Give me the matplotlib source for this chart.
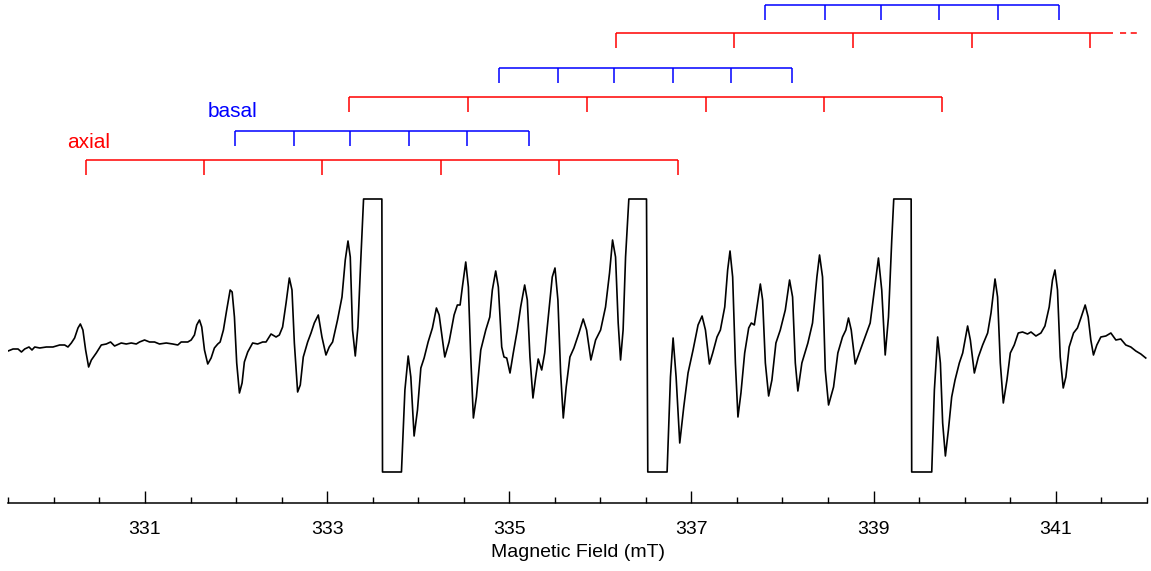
import matplotlib
matplotlib.use("Agg")
import matplotlib.pyplot as plt
import matplotlib.ticker as mticker

plt.rcParams["font.family"] = ["Liberation Sans", "DejaVu Sans"]

# EPR spectrum (field in mT, intensity in arbitrary units)
field_mT = [
    329.496, 329.551, 329.606, 329.643, 329.679, 329.726, 329.759, 329.789, 329.844, 329.917,
    329.989, 330.063, 330.118, 330.154, 330.191, 330.227, 330.264, 330.290, 330.318, 330.348,
    330.381, 330.411, 330.465, 330.520, 330.575, 330.622, 330.666, 330.739, 330.794, 330.849,
    330.904, 330.940, 330.995, 331.050, 331.105, 331.159, 331.233, 331.305, 331.360, 331.397,
    331.470, 331.507, 331.543, 331.568, 331.598, 331.623, 331.653, 331.689, 331.726, 331.762,
    331.799, 331.825, 331.861, 331.897, 331.935, 331.957, 331.982, 332.007, 332.037, 332.066,
    332.091, 332.128, 332.182, 332.237, 332.292, 332.329, 332.384, 332.439, 332.475, 332.511,
    332.549, 332.585, 332.614, 332.640, 332.676, 332.705, 332.738, 332.786, 332.823, 332.859,
    332.903, 332.943, 332.987, 333.023, 333.060, 333.114, 333.163, 333.199, 333.229, 333.254,
    333.279, 333.309, 333.338, 333.371, 333.400, 333.601, 333.608, 333.816, 333.854, 333.890,
    333.919, 333.955, 333.992, 334.029, 334.065, 334.109, 334.156, 334.200, 334.230, 334.292,
    334.339, 334.394, 334.430, 334.460, 334.485, 334.522, 334.551, 334.577, 334.606, 334.639,
    334.687, 334.742, 334.786, 334.814, 334.851, 334.880, 334.917, 334.942, 334.972, 335.008,
    335.044, 335.088, 335.125, 335.169, 335.198, 335.227, 335.260, 335.290, 335.318, 335.356,
    335.389, 335.428, 335.472, 335.502, 335.534, 335.564, 335.593, 335.625, 335.666, 335.710,
    335.765, 335.812, 335.849, 335.896, 335.948, 336.003, 336.057, 336.101, 336.134, 336.167,
    336.196, 336.222, 336.250, 336.277, 336.313, 336.507, 336.521, 336.733, 336.770, 336.799,
    336.832, 336.872, 336.916, 336.963, 337.018, 337.073, 337.117, 337.154, 337.198, 337.234,
    337.281, 337.318, 337.366, 337.398, 337.424, 337.453, 337.483, 337.511, 337.544, 337.585,
    337.629, 337.658, 337.691, 337.720, 337.757, 337.782, 337.812, 337.848, 337.884, 337.928,
    337.976, 338.031, 338.078, 338.111, 338.141, 338.169, 338.213, 338.279, 338.330, 338.378,
    338.407, 338.440, 338.470, 338.506, 338.561, 338.608, 338.659, 338.696, 338.725, 338.755,
    338.799, 338.843, 338.908, 338.963, 338.999, 339.054, 339.090, 339.128, 339.164, 339.200,
    339.222, 339.413, 339.419, 339.639, 339.668, 339.704, 339.734, 339.759, 339.789, 339.822,
    339.858, 339.895, 339.942, 339.979, 340.005, 340.033, 340.063, 340.107, 340.151, 340.198,
    340.253, 340.290, 340.334, 340.362, 340.392, 340.425, 340.465, 340.502, 340.545, 340.589,
    340.636, 340.691, 340.729, 340.783, 340.838, 340.882, 340.929, 340.965, 340.992, 341.020,
    341.050, 341.083, 341.112, 341.148, 341.196, 341.239, 341.277, 341.324, 341.357, 341.386,
    341.415, 341.452, 341.496, 341.551, 341.606, 341.661, 341.715, 341.770, 341.825, 341.880,
    341.935, 341.989,
]
intensity = [
    -6, -4, -4, -7, -4, -2, -5, -2, -3, -2,
    -2, 0, 0, -2, 2, 7, 17, 21, 15, -5,
    -22, -15, -8, 0, 1, 3, -1, 2, 1, 2,
    1, 3, 5, 3, 3, 1, 2, 1, 0, 3,
    3, 5, 10, 20, 25, 18, -5, -19, -13, -3,
    1, 3, 15, 35, 55, 53, 28, -18, -48, -38,
    -17, -7, 2, 1, 3, 3, 11, 8, 10, 18,
    42, 67, 55, 2, -47, -40, -12, 3, 12, 22,
    30, 8, -10, -2, 3, 25, 48, 85, 104, 88,
    15, -11, 18, 88, 146, 146, -127, -127, -45, -11,
    -32, -91, -65, -23, -13, 3, 17, 37, 30, -12,
    3, 30, 40, 40, 58, 83, 58, -12, -73, -52,
    -5, 15, 28, 55, 74, 58, -2, -12, -13, -28,
    -8, 15, 38, 60, 45, -12, -53, -32, -14, -25,
    -8, 28, 68, 77, 45, -28, -73, -42, -12, -3,
    12, 26, 15, -15, 5, 15, 38, 72, 105, 88,
    22, -15, 15, 88, 146, 146, -127, -127, -32, 7,
    -32, -98, -62, -28, -5, 20, 29, 15, -19, -8,
    8, 15, 38, 75, 94, 68, -18, -72, -48, -8,
    17, 22, 20, 38, 61, 45, -18, -51, -35, 2,
    15, 35, 65, 48, -18, -46, -18, 2, 22, 68,
    90, 68, -25, -60, -42, -8, 8, 15, 27, 15,
    -19, -8, 8, 22, 48, 87, 55, -10, 28, 105,
    146, 146, -127, -127, -45, 8, -18, -78, -111, -85,
    -52, -35, -18, -8, 5, 19, 5, -28, -12, 0,
    12, 32, 66, 48, -18, -58, -35, -8, 0, 12,
    13, 11, 13, 9, 12, 19, 38, 65, 75, 55,
    -12, -43, -32, -2, 12, 17, 27, 40, 28, 5,
    -10, 0, 8, 9, 12, 5, 6, 0, -2, -6,
    -9, -13,
]

# hyperfine stick patterns (line positions in mT), bottom row first
axial_1 = [330.348, 331.652, 332.946, 334.250, 335.545, 336.850]
basal_1 = [331.986, 332.636, 333.253, 333.899, 334.540, 335.213]
axial_2 = [333.242, 334.547, 335.853, 337.158, 338.452, 339.757]
basal_2 = [334.889, 335.539, 336.155, 336.798, 337.440, 338.110]
axial_3 = [336.175, 337.473, 338.775, 340.077, 341.378]
basal_3 = [337.810, 338.470, 339.080, 339.720, 340.370, 341.040]
axial_3_end = 341.634

RED = "#ff0000"
BLUE = "#0000ff"

fig = plt.figure(figsize=(11.51, 5.71), dpi=100)
ax = fig.add_axes([0.0073, 0.1191, 0.9890, 0.8809])

ax.plot(field_mT, intensity, color="black", lw=1.2, solid_joinstyle="round")


def stick_row(positions, y, color, end=None, tick=15):
    right = positions[-1] if end is None else end
    ax.plot([positions[0], right], [y, y], color=color, lw=1.1,
             solid_capstyle="butt")
    for p in positions:
        ax.plot([p, p], [y, y - tick], color=color, lw=1.1,
                 solid_capstyle="butt")


stick_row(axial_1, 185, RED)
stick_row(basal_1, 214, BLUE)
stick_row(axial_2, 248, RED)
stick_row(basal_2, 277, BLUE)
stick_row(axial_3, 312, RED, end=axial_3_end)
stick_row(basal_3, 340, BLUE)
ax.plot([341.71, 341.90], [312, 312], color=RED, lw=1.1, ls=(0, (4, 3)))

ax.text(330.38, 202, "axial", color=RED, fontsize=15, ha="center", va="center")
ax.text(331.966, 233, "basal", color=BLUE, fontsize=15, ha="center", va="center")

ax.set_xlim(329.5, 342.0)
ax.set_ylim(-158, 345)
for side in ("left", "right", "top"):
    ax.spines[side].set_visible(False)
ax.spines["bottom"].set_linewidth(1.1)
ax.set_yticks([])
ax.xaxis.set_major_locator(mticker.FixedLocator([331, 333, 335, 337, 339, 341]))
ax.xaxis.set_minor_locator(mticker.MultipleLocator(0.5))
ax.tick_params(axis="x", which="major", direction="in", length=8.5, width=1.0,
               labelsize=14, pad=13)
ax.tick_params(axis="x", which="minor", direction="in", length=4.5, width=1.0)
ax.set_xlabel("Magnetic Field (mT)", fontsize=14, labelpad=4)

fig.savefig("out.png", dpi=100)
